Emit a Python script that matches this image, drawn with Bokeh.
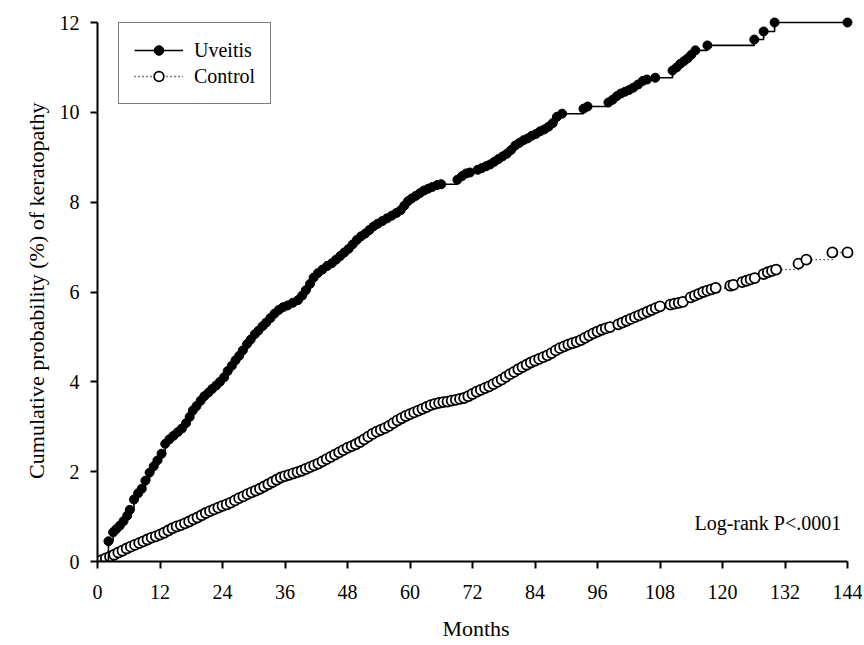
from bokeh.plotting import figure
from bokeh.models import Range1d, FixedTicker, Legend, LegendItem, Label
from bokeh.embed import file_html
from bokeh.resources import INLINE

# ---- data ----
uveitis_months = [2.1, 3.0, 3.6, 4.3, 5.0, 5.7, 6.2, 7.0, 7.8, 8.5, 9.2, 10.0, 10.8, 11.5, 12.3,
                  13.0, 13.8, 14.6, 15.4, 16.2, 17.0, 17.7, 18.3, 19.0, 19.8, 20.5, 21.3, 22.0,
                  22.8, 23.5, 24.3, 25.0, 25.8, 26.5, 27.2, 27.9, 28.7, 29.4, 30.2, 30.9, 31.7,
                  32.4, 33.2, 34.0, 34.8, 35.6, 36.5, 37.5, 38.5, 39.3, 40.0, 40.8, 41.5, 42.3,
                  43.2, 44.1, 45.0, 45.8, 46.6, 47.4, 48.2, 49.0, 49.8, 50.6, 51.4, 52.2, 53.0,
                  53.8, 54.7, 55.6, 56.5, 57.4, 58.2, 58.9, 59.6, 60.3, 61.1, 61.9, 62.7, 63.5,
                  64.3, 65.2, 66.0, 69.1, 70.0, 70.8, 71.5, 73.0, 73.8, 74.6, 75.4, 76.2, 77.0,
                  77.8, 78.6, 79.4, 80.2, 81.0, 81.8, 82.6, 83.4, 84.2, 85.0, 85.8, 86.6, 87.4,
                  88.2, 89.2, 93.3, 94.1, 98.1, 98.9, 99.7, 100.5, 101.3, 102.1, 102.9, 103.8,
                  104.7, 105.5, 107.1, 110.4, 111.2, 111.9, 112.6, 113.3, 114.0, 114.8, 117.1,
                  126.1, 127.9, 130.0, 144.0]
uveitis_pct = [0.45, 0.65, 0.72, 0.80, 0.90, 1.02, 1.15, 1.38, 1.52, 1.62, 1.80, 1.98, 2.12, 2.25,
               2.40, 2.62, 2.72, 2.80, 2.88, 2.96, 3.08, 3.22, 3.36, 3.46, 3.58, 3.68, 3.76, 3.84,
               3.92, 4.00, 4.10, 4.24, 4.36, 4.48, 4.58, 4.70, 4.84, 4.94, 5.06, 5.14, 5.24, 5.32,
               5.42, 5.52, 5.60, 5.66, 5.70, 5.76, 5.82, 5.92, 6.04, 6.18, 6.32, 6.42, 6.50, 6.58,
               6.64, 6.72, 6.80, 6.88, 6.96, 7.06, 7.16, 7.24, 7.30, 7.38, 7.46, 7.52, 7.58, 7.64,
               7.70, 7.76, 7.82, 7.92, 8.02, 8.08, 8.14, 8.20, 8.26, 8.30, 8.34, 8.38, 8.40, 8.50,
               8.58, 8.64, 8.66, 8.72, 8.76, 8.80, 8.84, 8.90, 8.96, 9.02, 9.08, 9.16, 9.26, 9.32,
               9.38, 9.42, 9.48, 9.52, 9.58, 9.62, 9.68, 9.76, 9.90, 9.97, 10.08, 10.13, 10.22,
               10.28, 10.36, 10.42, 10.46, 10.50, 10.55, 10.62, 10.70, 10.73, 10.77, 10.93, 11.00,
               11.08, 11.14, 11.20, 11.28, 11.38, 11.49, 11.62, 11.80, 12.00, 12.00]

control_months = [0.0, 0.8, 1.6, 2.4, 3.2, 4.0, 4.8, 5.6, 6.4, 7.2, 8.0, 8.8, 9.6, 10.4, 11.2,
                  12.0, 12.8, 13.6, 14.4, 15.2, 16.0, 16.8, 17.6, 18.4, 19.2, 20.0, 20.8, 21.6,
                  22.4, 23.2, 24.0, 24.8, 25.6, 26.4, 27.2, 28.0, 28.8, 29.6, 30.4, 31.2, 32.0,
                  32.8, 33.6, 34.4, 35.2, 36.0, 36.8, 37.6, 38.4, 39.2, 40.0, 40.8, 41.6, 42.4,
                  43.2, 44.0, 44.8, 45.6, 46.4, 47.2, 48.0, 48.8, 49.6, 50.4, 51.2, 52.0, 52.8,
                  53.6, 54.4, 55.2, 56.0, 56.8, 57.6, 58.4, 59.2, 60.0, 60.8, 61.6, 62.4, 63.2,
                  64.0, 64.8, 65.6, 66.4, 67.2, 68.0, 68.8, 69.6, 70.4, 71.2, 72.0, 72.8, 73.6,
                  74.4, 75.2, 76.0, 76.8, 77.6, 78.4, 79.2, 80.0, 80.8, 81.6, 82.4, 83.2, 84.0,
                  84.8, 85.6, 86.4, 87.2, 88.0, 88.8, 89.6, 90.4, 91.2, 92.0, 92.8, 93.6, 94.4,
                  95.2, 96.0, 96.8, 97.6, 98.4, 100.0, 100.8, 101.6, 102.4, 103.2, 104.0, 104.8,
                  105.6, 106.4, 107.2, 108.0, 110.0, 110.8, 111.6, 112.4, 113.9, 114.7, 115.5,
                  116.3, 117.1, 117.9, 118.7, 121.5, 122.1, 123.8, 124.6, 125.4, 126.2, 127.9,
                  128.7, 129.5, 130.3, 134.6, 136.1, 141.1, 144.0]
control_pct = [0.00, 0.03, 0.07, 0.11, 0.15, 0.20, 0.24, 0.29, 0.33, 0.37, 0.41, 0.45, 0.49, 0.53,
               0.56, 0.60, 0.64, 0.69, 0.74, 0.78, 0.81, 0.85, 0.89, 0.94, 0.98, 1.03, 1.08, 1.12,
               1.16, 1.20, 1.24, 1.27, 1.31, 1.36, 1.41, 1.45, 1.50, 1.54, 1.58, 1.62, 1.67, 1.72,
               1.77, 1.82, 1.87, 1.90, 1.93, 1.96, 1.99, 2.02, 2.06, 2.10, 2.14, 2.18, 2.23, 2.28,
               2.33, 2.38, 2.43, 2.48, 2.53, 2.57, 2.61, 2.66, 2.72, 2.78, 2.84, 2.89, 2.93, 2.97,
               3.02, 3.08, 3.14, 3.19, 3.24, 3.28, 3.32, 3.36, 3.40, 3.44, 3.48, 3.51, 3.53, 3.55,
               3.56, 3.58, 3.60, 3.62, 3.64, 3.68, 3.73, 3.78, 3.82, 3.86, 3.90, 3.95, 4.00, 4.05,
               4.11, 4.17, 4.22, 4.28, 4.33, 4.38, 4.43, 4.47, 4.51, 4.55, 4.59, 4.64, 4.70, 4.75,
               4.79, 4.83, 4.86, 4.89, 4.93, 4.98, 5.03, 5.08, 5.12, 5.16, 5.19, 5.22, 5.28, 5.32,
               5.36, 5.40, 5.44, 5.48, 5.52, 5.56, 5.60, 5.64, 5.68, 5.72, 5.74, 5.76, 5.78, 5.88,
               5.92, 5.96, 6.00, 6.03, 6.06, 6.09, 6.14, 6.16, 6.22, 6.25, 6.28, 6.31, 6.40, 6.44,
               6.47, 6.50, 6.63, 6.72, 6.88, 6.88]

x_ticks = [0, 12, 24, 36, 48, 60, 72, 84, 96, 108, 120, 132, 144]
y_ticks = [0, 2, 4, 6, 8, 10, 12]
x_title = "Months"
y_title = "Cumulative probability (%) of  keratopathy"
series_names = ["Uveitis", "Control"]
note = "Log-rank P<.0001"

FONT = "Liberation Serif"

px_x = 144 / 750.0
px_y = 12 / 539.0

p = figure(width=862, height=644, output_backend="svg", toolbar_location=None,
           x_range=Range1d(0, 144 + 7 * px_x),
           y_range=Range1d(0, 12 + 8 * px_y),
           min_border_left=97, min_border_right=8, min_border_top=14, min_border_bottom=83)
p.grid.visible = False
p.outline_line_color = None
p.background_fill_color = "white"
p.border_fill_color = "white"

for ax in (p.xaxis[0], p.yaxis[0]):
    ax.axis_line_width = 2
    ax.axis_line_color = "black"
    ax.major_tick_line_width = 2
    ax.major_tick_line_color = "black"
    ax.major_tick_out = 7
    ax.major_tick_in = 0
    ax.minor_tick_line_color = None
    ax.major_label_text_font = FONT
    ax.major_label_text_font_size = "20px"
    ax.major_label_text_color = "black"
    ax.axis_label_text_font = FONT
    ax.axis_label_text_font_size = "22px"
    ax.axis_label_text_font_style = "normal"
    ax.axis_label_text_color = "black"

p.xaxis.ticker = FixedTicker(ticks=x_ticks)
p.yaxis.ticker = FixedTicker(ticks=y_ticks)
p.xaxis.bounds = (x_ticks[0], x_ticks[-1])
p.yaxis.bounds = (y_ticks[0], y_ticks[-1])
p.xaxis.major_label_standoff = 16
p.yaxis.major_label_standoff = 11
p.xaxis.axis_label = x_title
p.yaxis.axis_label = y_title
p.xaxis.axis_label_standoff = 14
p.yaxis.axis_label_standoff = 8

# Control
c_line = p.step(control_months, control_pct, mode="after",
                line_color="black", line_width=1.4, line_dash="1 3")
c_pts = p.scatter(control_months, control_pct, size=10, marker="circle",
                  fill_color="white", line_color="black", line_width=1.8)

# Uveitis
u_line = p.step([0] + uveitis_months, [0] + uveitis_pct, mode="after",
                line_color="black", line_width=1.6)
u_pts = p.scatter(uveitis_months, uveitis_pct, size=9, marker="circle",
                  fill_color="black", line_color="black", line_width=1)

legend = Legend(items=[LegendItem(label=series_names[0], renderers=[u_line, u_pts]),
                       LegendItem(label=series_names[1], renderers=[c_line, c_pts])],
                location=(21, 457), glyph_width=49, glyph_height=24, label_standoff=11,
                padding=15, spacing=2, margin=0,
                border_line_color="black", border_line_width=1.5,
                background_fill_color="white", background_fill_alpha=1,
                label_text_font=FONT, label_text_font_size="20px", label_text_color="black")
p.add_layout(legend, "center")

p.add_layout(Label(x=142.8, y=0.85, text=note, text_align="right", text_baseline="middle",
                   text_font=FONT, text_font_size="20px", text_color="black"))

open("out.html", "w").write(file_html(p, INLINE))
